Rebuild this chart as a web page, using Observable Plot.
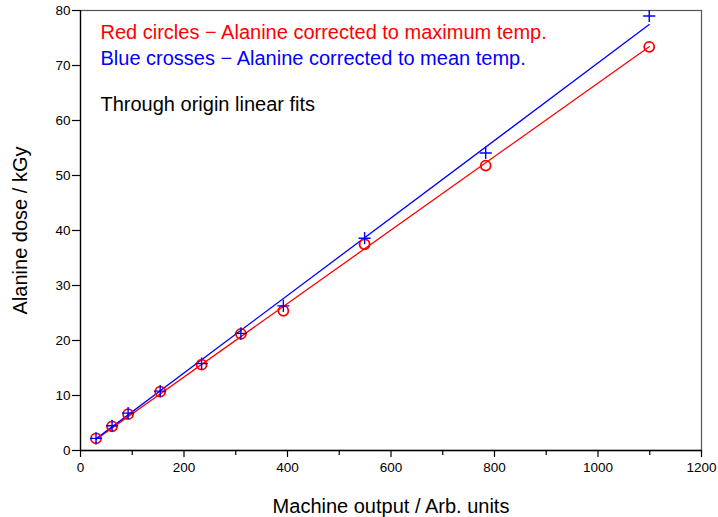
<!DOCTYPE html>
<html>
<head>
<meta charset="utf-8">
<script src="https://cdn.jsdelivr.net/npm/d3@7"></script>
<script src="https://cdn.jsdelivr.net/npm/@observablehq/plot@0.6"></script>
<style>
  html, body { margin: 0; padding: 0; background: #fff; }
  #chart svg { display: block; }
</style>
</head>
<body>
<div id="chart"></div>
<script>
// Data
const machineOutput = [30, 61, 92, 154, 234, 310, 392, 549, 783, 1099];
const doseMaxTemp  = [2.2, 4.4, 6.6, 10.7, 15.6, 21.2, 25.4, 37.5, 51.8, 73.4];
const doseMeanTemp = [2.2, 4.5, 6.8, 10.8, 15.8, 21.3, 26.3, 38.6, 54.1, 79.0];

const xMajorTicks = [0, 200, 400, 600, 800, 1000, 1200];
const xMinorTicks = [100, 300, 500, 700, 900, 1100];
const yTicks = [0, 10, 20, 30, 40, 50, 60, 70, 80];

const legendLines = [
  {text: "Red circles \u2212 Alanine corrected to maximum temp.", color: "#ff0000"},
  {text: "Blue crosses \u2212 Alanine corrected to mean temp.", color: "#0000ff"},
  {text: "Through origin linear fits", color: "#000000"}
];
const xTitle = "Machine output / Arb. units";
const yTitle = "Alanine dose / kGy";

const rows = machineOutput.map((x, i) => ({x, red: doseMaxTemp[i], blue: doseMeanTemp[i]}));

// Through-origin least-squares fit: slope = Σxy / Σx²
function originSlope(xs, ys) {
  let sxy = 0, sxx = 0;
  xs.forEach((x, i) => { sxy += x * ys[i]; sxx += x * x; });
  return sxy / sxx;
}
const xExtent = d3.extent(machineOutput);
const fitRed = xExtent.map(x => ({x, y: originSlope(machineOutput, doseMaxTemp) * x}));
const fitBlue = xExtent.map(x => ({x, y: originSlope(machineOutput, doseMeanTemp) * x}));

const chart = Plot.plot({
  width: 718,
  height: 517,
  marginLeft: 80,
  marginRight: 17,
  marginTop: 10,
  marginBottom: 67,
  style: {fontFamily: "'Liberation Sans', Arial, Helvetica, sans-serif", fontSize: "13.5px", color: "#000", background: "#fff"},
  x: {domain: [0, 1200]},
  y: {domain: [0, 80]},
  marks: [
    Plot.frame({stroke: "#555", strokeWidth: 1.2}),
    Plot.axisX({ticks: xMinorTicks, tickSize: 5, tickFormat: () => "", label: null, strokeWidth: 1.2}),
    Plot.axisX({ticks: xMajorTicks, tickSize: 7, tickPadding: 5, tickFormat: d3.format("d"), label: null, strokeWidth: 1.2, fontSize: 13.5}),
    Plot.axisY({ticks: yTicks, tickSize: 8, tickPadding: 2, tickFormat: d3.format("d"), label: null, strokeWidth: 1.2, fontSize: 13.5}),
    Plot.ruleX([0], {stroke: "#000", strokeWidth: 1.3}),
    Plot.ruleY([0], {stroke: "#000", strokeWidth: 1.3}),
    Plot.line(fitRed, {x: "x", y: "y", stroke: "#ff0000", strokeWidth: 1.3}),
    Plot.line(fitBlue, {x: "x", y: "y", stroke: "#0000ff", strokeWidth: 1.3}),
    Plot.dot(rows, {x: "x", y: "red", r: 5, stroke: "#ff0000", strokeWidth: 1.8, fill: "none"}),
    Plot.dot(rows, {x: "x", y: "blue", symbol: "plus", r: 4, stroke: "#0000ff", strokeWidth: 1.4}),
    Plot.text([legendLines[0]], {text: "text", fill: "color", frameAnchor: "top-left", textAnchor: "start", lineAnchor: "bottom", dx: 20, dy: 28, fontSize: 20}),
    Plot.text([legendLines[1]], {text: "text", fill: "color", frameAnchor: "top-left", textAnchor: "start", lineAnchor: "bottom", dx: 20, dy: 54, fontSize: 20}),
    Plot.text([legendLines[2]], {text: "text", fill: "color", frameAnchor: "top-left", textAnchor: "start", lineAnchor: "bottom", dx: 20, dy: 100, fontSize: 20}),
    Plot.text([xTitle], {text: d => d, frameAnchor: "bottom", textAnchor: "middle", lineAnchor: "bottom", dy: 62, fontSize: 20, fill: "#000"}),
    Plot.text([yTitle], {text: d => d, frameAnchor: "left", textAnchor: "middle", lineAnchor: "bottom", rotate: -90, dx: -54, fontSize: 20, fill: "#000"})
  ]
});
document.getElementById("chart").appendChild(chart);
</script>
</body>
</html>
